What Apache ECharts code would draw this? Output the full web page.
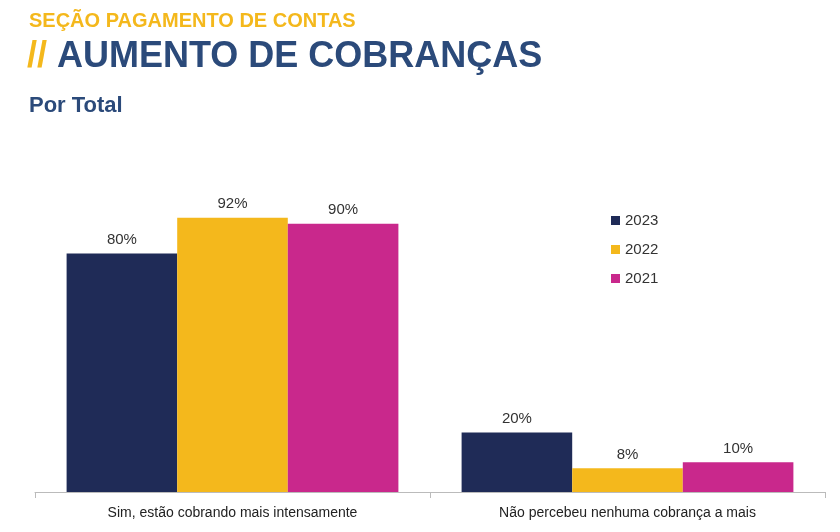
<!DOCTYPE html>
<html>
<head>
<meta charset="utf-8">
<script src="https://cdn.jsdelivr.net/npm/echarts@6/dist/echarts.min.js"></script>
<style>
    html, body { margin: 0; padding: 0; background: #fff; }
    #chart { width: 840px; height: 532px; }
</style>
</head>
<body>
<div id="chart"></div>
<script type="text/javascript">
var categories = ['Sim, estão cobrando mais intensamente', 'Não percebeu nenhuma cobrança a mais'];
var years = ['2023', '2022', '2021'];
var values2023 = [80, 20];
var values2022 = [92, 8];
var values2021 = [90, 10];
var colors = ['#1f2b57', '#f4b81c', '#c9288c'];

var chart = echarts.init(document.getElementById('chart'));
var allValues = [values2023, values2022, values2021];
var series = years.map(function (y, i) {
    return {
        name: y,
        type: 'bar',
        data: allValues[i],
        barGap: '0%',
        barCategoryGap: '16%',
        itemStyle: { color: colors[i] },
        label: {
            show: true, position: 'top', formatter: '{c}%',
            color: '#333', fontSize: 15, fontFamily: 'Liberation Sans', distance: 6
        }
    };
});

chart.setOption({
    animation: false,
    title: [
        { text: 'SEÇÃO PAGAMENTO DE CONTAS', left: 24, top: 6,
          textStyle: { color: '#f4b81c', fontSize: 20, fontWeight: 'bold', fontFamily: 'Liberation Sans' } },
        { text: '{y|//} AUMENTO DE COBRANÇAS', left: 22, top: 34,
          textStyle: { rich: {
              y: { color: '#f4b81c', fontSize: 36, fontWeight: 'bold', fontFamily: 'Liberation Sans' }
          }, color: '#2b4a7a', fontSize: 36, fontWeight: 'bold', fontFamily: 'Liberation Sans' } },
        { text: 'Por Total', left: 24, top: 90,
          textStyle: { color: '#2b4a7a', fontSize: 22, fontWeight: 'bold', fontFamily: 'Liberation Sans' } }
    ],
    legend: {
        orient: 'vertical', left: 606, top: 208, itemGap: 14,
        itemWidth: 9, itemHeight: 9, icon: 'rect',
        textStyle: { color: '#333', fontSize: 15, fontFamily: 'Liberation Sans' },
        data: years
    },
    grid: { left: 35, right: 15, top: 194, bottom: 40 },
    xAxis: {
        type: 'category', data: categories,
        axisLine: { lineStyle: { color: '#bbb' } },
        axisTick: { show: true, alignWithLabel: false, length: 6, lineStyle: { color: '#bbb' } },
        axisLabel: { color: '#222', fontSize: 14, fontFamily: 'Liberation Sans', margin: 14 }
    },
    yAxis: { type: 'value', min: 0, max: 100, show: false, splitLine: { show: false } },
    series: series
});
</script>
</body>
</html>
